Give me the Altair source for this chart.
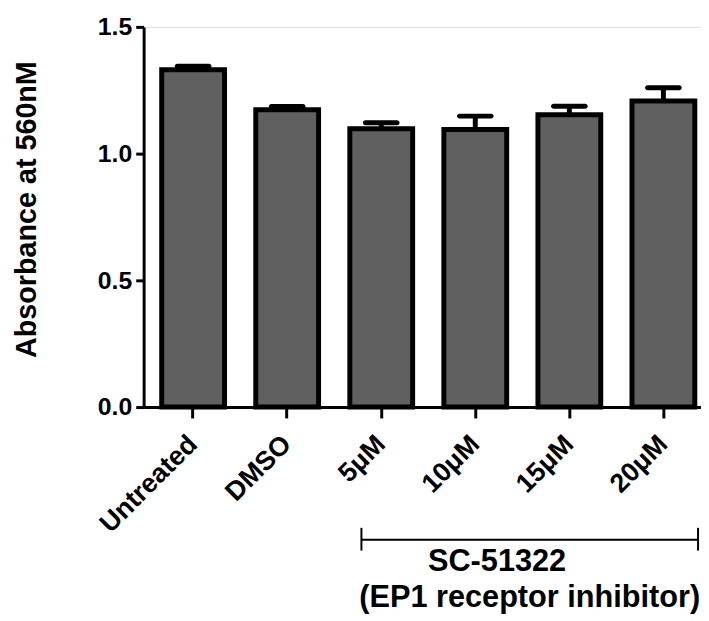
import altair as alt
import pandas as pd

categories = ["Untreated", "DMSO", "5μM", "10μM", "15μM", "20μM"]
means = [1.331, 1.173, 1.098, 1.095, 1.153, 1.208]
sems = [0.014, 0.013, 0.024, 0.053, 0.034, 0.052]
y_ticks = [0.0, 0.5, 1.0, 1.5]
y_title = "Absorbance at 560nM"
group_start = ["5μM"]
group_end = ["20μM"]
group_anchor = ["10μM"]
group_label = ["SC-51322"]
group_sublabel = ["(EP1 receptor inhibitor)"]

df = pd.DataFrame({"group": categories, "mean": means, "sem": sems})
df["upper"] = df["mean"] + df["sem"]

bracket = pd.DataFrame({"start": group_start, "end": group_end,
                        "anchor": group_anchor, "label": group_label,
                        "sublabel": group_sublabel})

FONT = "Liberation Sans"
W, H = 563, 384

xscale = alt.Scale(domain=categories, paddingInner=0.332, paddingOuter=0.129, align=0.745)
yscale = alt.Scale(domain=[0, 1.5], nice=False, zero=True)

x_axis = alt.Axis(title=None, labelAngle=-45, labelFont=FONT, labelFontSize=27,
                  labelFontWeight="bold", labelColor="black", labelPadding=22,
                  labelBaseline="middle", labelAlign="right",
                  tickSize=11, tickWidth=3, tickColor="black",
                  domainWidth=3, domainColor="black", grid=False)
y_axis = alt.Axis(title=y_title, values=y_ticks, format=".1f", labelFont=FONT,
                  labelFontSize=25, labelFontWeight="bold", labelColor="black",
                  labelPadding=4, tickSize=8, tickWidth=3, tickColor="black",
                  domainWidth=3, domainColor="black", grid=False,
                  titleFont=FONT, titleFontSize=29, titleFontWeight="bold",
                  titleColor="black", titleX=-109, titleY=184,
                  titleBaseline="alphabetic", titleAlign="center", titleAngle=270)

X = alt.X("group:N", scale=xscale, sort=categories, axis=x_axis)

base = alt.Chart(df)

bars = base.mark_bar(fill="#606060", stroke="black", strokeWidth=5, strokeJoin="miter").encode(
    x=X,
    y=alt.Y("mean:Q", scale=yscale, axis=y_axis),
)

stems = base.mark_rule(color="black", strokeWidth=5).encode(
    x=alt.X("group:N", scale=xscale, sort=categories),
    y=alt.Y("mean:Q", scale=yscale),
    y2="upper:Q",
)

caps = base.mark_tick(color="black", thickness=5, size=37, cornerRadius=2.5, opacity=1).encode(
    x=alt.X("group:N", scale=xscale, sort=categories),
    y=alt.Y("upper:Q", scale=yscale),
)

bb = alt.Chart(bracket)
hline = bb.mark_rule(color="black", strokeWidth=2, xOffset=-20, x2Offset=35).encode(
    x=alt.X("start:N", scale=xscale),
    x2="end:N",
    y=alt.value(518),
)
lend = bb.mark_rule(color="black", strokeWidth=2, xOffset=-20).encode(
    x=alt.X("start:N", scale=xscale),
    y=alt.value(506), y2=alt.value(529),
)
rend = bb.mark_rule(color="black", strokeWidth=2, xOffset=35).encode(
    x=alt.X("end:N", scale=xscale),
    y=alt.value(506), y2=alt.value(529),
)
t1 = bb.mark_text(font=FONT, fontSize=31, fontWeight="bold", color="black",
                  align="center", baseline="alphabetic", dx=22).encode(
    x=alt.X("anchor:N", scale=xscale), y=alt.value(550), text="label:N")
t2 = bb.mark_text(font=FONT, fontSize=31, fontWeight="bold", color="black",
                  align="center", baseline="alphabetic", dx=55).encode(
    x=alt.X("anchor:N", scale=xscale), y=alt.value(586), text="sublabel:N")

chart = alt.layer(bars, stems, caps, hline, lend, rend, t1, t2).properties(
    width=W, height=H,
    autosize=alt.AutoSizeParams(type="none"),
    padding={"left": 137, "top": 16, "right": 0, "bottom": 213},
).configure_view(stroke=None).configure(background="white")

chart.save("out.html", embed_options={"renderer": "svg", "actions": False})
